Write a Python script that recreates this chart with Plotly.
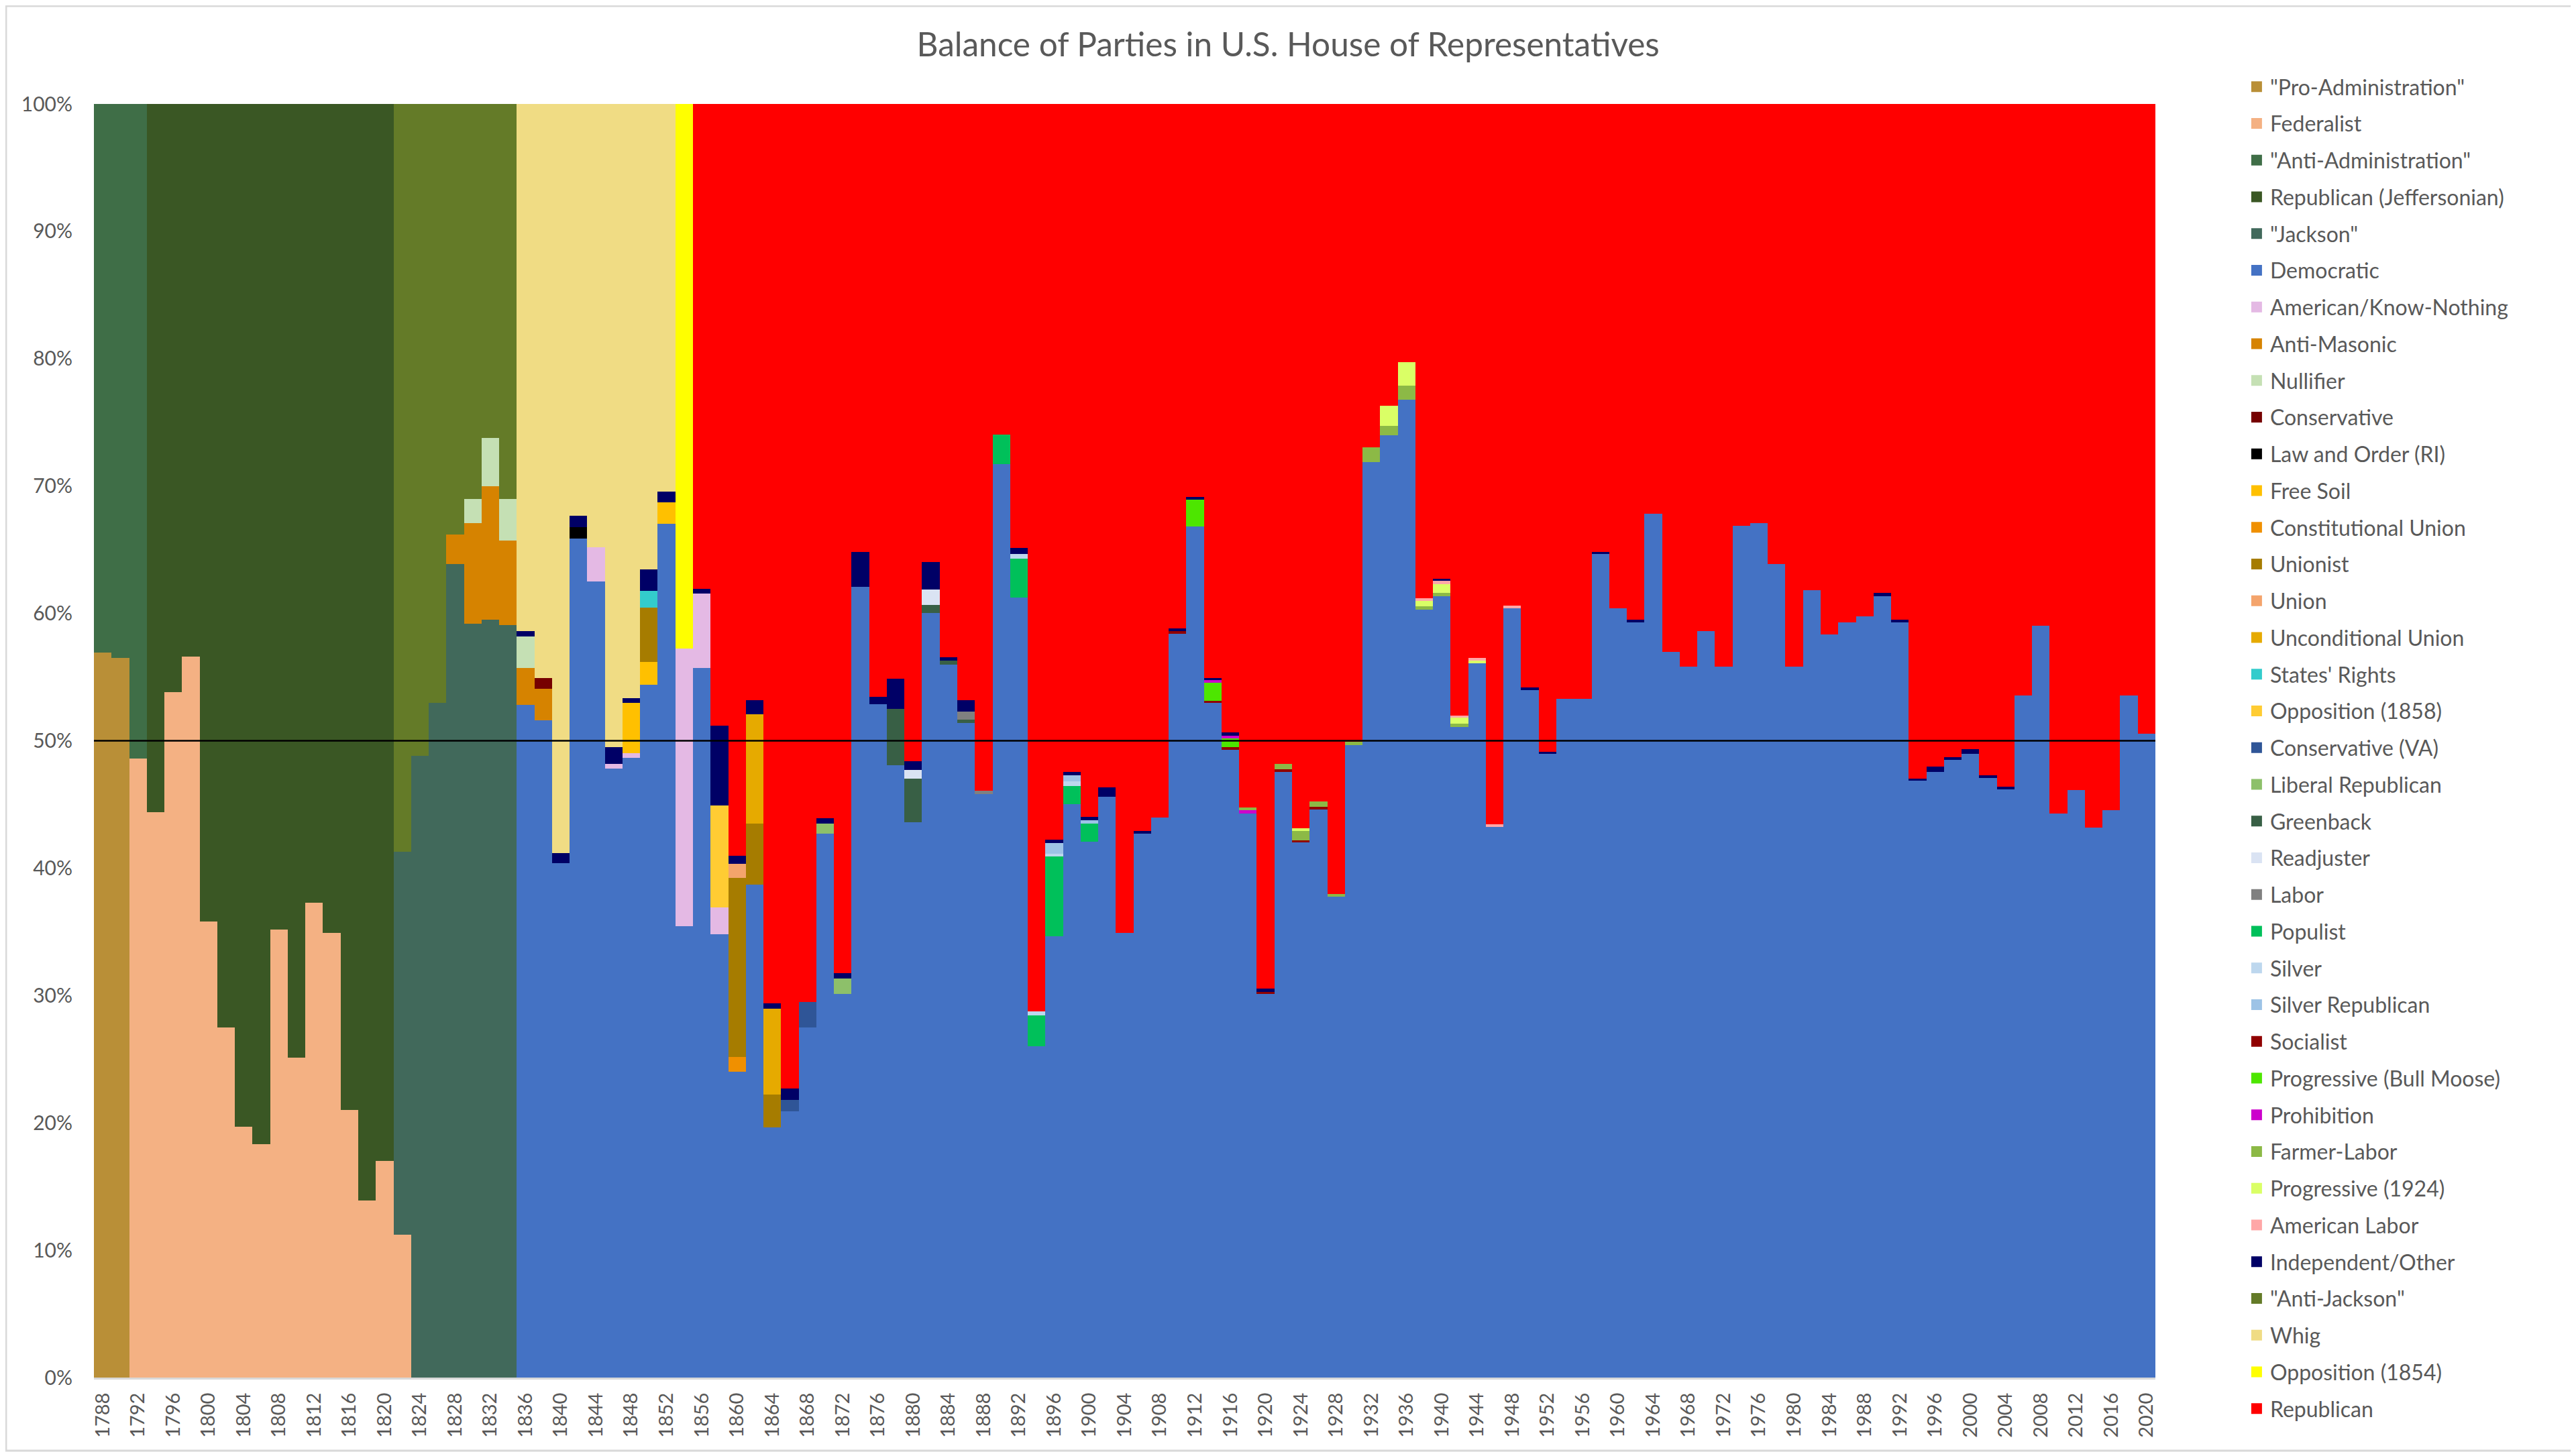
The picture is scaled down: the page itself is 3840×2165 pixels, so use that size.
import plotly.graph_objects as go

# one bar per Congress, labelled by election year
years = list(range(1788, 2021, 2))

# share of seats (%), per party, {year: share}
pro_administration = {1788: 56.9, 1790: 56.5}
federalist = {1792: 48.6, 1794: 44.4, 1796: 53.8, 1798: 56.6, 1800: 35.8, 1802: 27.5,
              1804: 19.7, 1806: 18.3, 1808: 35.2, 1810: 25.1, 1812: 37.3, 1814: 34.9,
              1816: 21.0, 1818: 13.9, 1820: 17.0, 1822: 11.2}
anti_administration = {1788: 43.1, 1790: 43.5, 1792: 51.4}
republican_jeff = {1794: 55.6, 1796: 46.2, 1798: 43.4, 1800: 64.2, 1802: 72.5, 1804: 80.3,
                   1806: 81.7, 1808: 64.8, 1810: 74.9, 1812: 62.7, 1814: 65.1, 1816: 79.0,
                   1818: 86.1, 1820: 83.0}
jackson = {1822: 30.1, 1824: 48.8, 1826: 53.0, 1828: 63.9, 1830: 59.2, 1832: 59.5, 1834: 59.1}

dem_start = 1836
democratic_vals = [
    52.8, 51.6, 40.4, 65.9, 62.5, 47.8, 48.65, 54.4, 67.05, 35.45,      # 1836-1854
    55.7, 34.8, 24.0, 38.7, 19.65, 20.9, 27.5, 42.7, 30.1, 62.1,        # 1856-1874
    52.85, 48.1, 43.6, 60.05, 56.0, 51.4, 45.8, 71.7, 61.25, 26.0,      # 1876-1894
    34.65, 45.05, 42.1, 45.6, 34.9, 42.7, 43.95, 58.4, 66.85, 52.95,    # 1896-1914
    49.3, 44.3, 30.1, 47.55, 42.0, 44.6, 37.75, 49.65, 71.9, 74.0,      # 1916-1934
    76.8, 60.3, 61.35, 51.1, 56.1, 43.25, 60.4, 54.0, 48.95, 53.3,      # 1936-1954
    53.3, 64.65, 60.4, 59.3, 67.8, 57.0, 55.8, 58.6, 55.8, 66.9,        # 1956-1974
    67.1, 63.9, 55.8, 61.8, 58.35, 59.3, 59.75, 61.35, 59.3, 46.85,     # 1976-1994
    47.55, 48.5, 48.95, 47.1, 46.2, 53.55, 59.05, 44.3, 46.15, 43.2,    # 1996-2014
    44.55, 53.55, 50.55,                                                 # 2016-2020
]
american_kn = {1844: 2.7, 1846: 0.4, 1848: 0.4, 1854: 21.8, 1856: 5.85, 1858: 2.1}
anti_masonic = {1828: 2.3, 1830: 7.9, 1832: 10.5, 1834: 6.6, 1836: 2.9, 1838: 2.5}
nullifier = {1830: 1.9, 1832: 3.8, 1834: 3.3, 1836: 2.5}
conservative = {1838: 0.8}
law_and_order = {1842: 0.85}
free_soil = {1848: 3.9, 1850: 1.8, 1852: 1.65}
constitutional_union = {1860: 1.15}
unionist = {1850: 4.25, 1860: 14.1, 1862: 4.8, 1864: 2.55}
union = {1860: 1.1}
unconditional_union = {1862: 8.6, 1864: 6.75}
states_rights = {1850: 1.3}
opposition_1858 = {1858: 8.0}
conservative_va = {1866: 0.9, 1868: 2.0}
liberal_republican = {1870: 0.8, 1872: 1.25}
greenback = {1878: 4.4, 1880: 3.45, 1882: 0.6, 1884: 0.3, 1886: 0.25}
readjuster = {1880: 0.65, 1882: 1.25}
labor = {1886: 0.65, 1888: 0.3}
populist = {1890: 2.35, 1892: 3.05, 1894: 2.45, 1896: 6.25, 1898: 1.4, 1900: 1.4}
silver = {1892: 0.35, 1894: 0.3, 1896: 0.25, 1898: 0.35}
silver_republican = {1896: 0.8, 1898: 0.5, 1900: 0.25}
socialist = {1910: 0.2, 1914: 0.2, 1916: 0.2, 1920: 0.2, 1922: 0.2, 1924: 0.2, 1926: 0.2}
progressive_bull_moose = {1912: 2.1, 1914: 1.4, 1916: 0.7}
prohibition = {1914: 0.2, 1916: 0.2, 1918: 0.25}
farmer_labor = {1918: 0.2, 1922: 0.45, 1924: 0.7, 1926: 0.45, 1928: 0.2, 1930: 0.25,
                1932: 1.15, 1934: 0.7, 1936: 1.1, 1938: 0.25, 1940: 0.25, 1942: 0.25}
progressive_1924 = {1924: 0.25, 1934: 1.6, 1936: 1.85, 1938: 0.45, 1940: 0.7, 1942: 0.45,
                    1944: 0.2}
american_labor = {1938: 0.2, 1940: 0.25, 1942: 0.2, 1944: 0.2, 1946: 0.2, 1948: 0.2}
independent = {1836: 0.4, 1840: 0.8, 1842: 0.9, 1846: 1.3, 1848: 0.4, 1850: 1.7, 1852: 0.85,
               1856: 0.4, 1858: 6.3, 1860: 0.6, 1862: 1.1, 1864: 0.45, 1866: 0.9, 1870: 0.4,
               1872: 0.4, 1874: 2.7, 1876: 0.6, 1878: 2.35, 1880: 0.7, 1882: 2.15, 1884: 0.25,
               1886: 0.9, 1892: 0.5, 1896: 0.3, 1898: 0.25, 1900: 0.25, 1902: 0.75, 1906: 0.2,
               1910: 0.2, 1912: 0.2, 1914: 0.2, 1916: 0.25, 1920: 0.25, 1940: 0.15, 1950: 0.2,
               1952: 0.2, 1958: 0.2, 1962: 0.2, 1990: 0.25, 1992: 0.2, 1994: 0.2, 1996: 0.4,
               1998: 0.2, 2000: 0.4, 2002: 0.2, 2004: 0.2}
anti_jackson = {1822: 58.7, 1824: 51.2, 1826: 47.0, 1828: 33.8, 1830: 31.0, 1832: 26.2, 1834: 31.0}
whig = {1836: 41.4, 1838: 45.1, 1840: 58.8, 1842: 32.35, 1844: 34.8, 1846: 50.5, 1848: 46.65,
        1850: 36.55, 1852: 30.45}
opposition_1854 = {1854: 42.75}

rep_start = 1856
republican_vals = [
    38.05, 48.8, 59.05, 46.8, 70.6, 77.3, 70.5, 56.1, 68.25, 35.2,      # 1856-1874
    46.55, 45.15, 51.6, 35.95, 43.45, 46.8, 53.9, 25.95, 34.85, 71.25,  # 1876-1894
    57.75, 52.45, 56.0, 53.65, 65.1, 57.1, 56.05, 41.2, 30.85, 45.05,   # 1896-1914
    49.35, 55.25, 69.45, 51.8, 56.85, 54.75, 62.05, 50.1, 26.95, 23.7,  # 1916-1934
    20.25, 38.8, 37.3, 48.0, 43.5, 56.55, 39.4, 45.8, 50.85, 46.7,      # 1936-1954
    46.7, 35.15, 39.6, 40.5, 32.2, 43.0, 44.2, 41.4, 44.2, 33.1,        # 1956-1974
    32.9, 36.1, 44.2, 38.2, 41.65, 40.7, 40.25, 38.4, 40.5, 52.95,      # 1976-1994
    52.05, 51.3, 50.65, 52.7, 53.6, 46.45, 40.95, 55.7, 53.85, 56.8,    # 1996-2014
    55.45, 46.45, 49.45,                                                 # 2016-2020
]

democratic = dict(zip(range(dem_start, 2021, 2), democratic_vals))
republican = dict(zip(range(rep_start, 2021, 2), republican_vals))

# stacking order bottom -> top, same as the legend top -> bottom
parties = [
    ('"Pro-Administration"', pro_administration, "#B98F37"),
    ("Federalist", federalist, "#F4B183"),
    ('"Anti-Administration"', anti_administration, "#3F6E47"),
    ("Republican (Jeffersonian)", republican_jeff, "#3A5724"),
    ('"Jackson"', jackson, "#41695B"),
    ("Democratic", democratic, "#4472C4"),
    ("American/Know-Nothing", american_kn, "#E4B9E4"),
    ("Anti-Masonic", anti_masonic, "#D68300"),
    ("Nullifier", nullifier, "#C5E0B4"),
    ("Conservative", conservative, "#760000"),
    ("Law and Order (RI)", law_and_order, "#000000"),
    ("Free Soil", free_soil, "#FFC000"),
    ("Constitutional Union", constitutional_union, "#F09000"),
    ("Unionist", unionist, "#A67C00"),
    ("Union", union, "#F4A46C"),
    ("Unconditional Union", unconditional_union, "#E6AA00"),
    ("States' Rights", states_rights, "#33CCCC"),
    ("Opposition (1858)", opposition_1858, "#FFCC33"),
    ("Conservative (VA)", conservative_va, "#2F5597"),
    ("Liberal Republican", liberal_republican, "#8DC06A"),
    ("Greenback", greenback, "#385F45"),
    ("Readjuster", readjuster, "#DAE3F3"),
    ("Labor", labor, "#808080"),
    ("Populist", populist, "#00C05A"),
    ("Silver", silver, "#BDD7EE"),
    ("Silver Republican", silver_republican, "#9DC3E6"),
    ("Socialist", socialist, "#900000"),
    ("Progressive (Bull Moose)", progressive_bull_moose, "#4DE600"),
    ("Prohibition", prohibition, "#CC00CC"),
    ("Farmer-Labor", farmer_labor, "#8CB946"),
    ("Progressive (1924)", progressive_1924, "#DAFF66"),
    ("American Labor", american_labor, "#FFA7A7"),
    ("Independent/Other", independent, "#000066"),
    ('"Anti-Jackson"', anti_jackson, "#647B28"),
    ("Whig", whig, "#F0DC84"),
    ("Opposition (1854)", opposition_1854, "#FFFF00"),
    ("Republican", republican, "#FF0000"),
]

grey = "#595959"
# the page body has an 8px margin, so the figure is 8px smaller than the window
W, H = 3832, 2157
ml, mr, mt, mb = 132, 627, 147, 111

fig = go.Figure()
for name, shares, color in parties:
    fig.add_trace(go.Bar(
        x=years, y=[shares.get(y, 0) for y in years], name=name,
        legendgroup=name, showlegend=False, width=2,
        marker=dict(color=color, line=dict(width=0)),
    ))
    # empty marker trace only to get a bigger square swatch in the legend
    fig.add_trace(go.Scatter(
        x=[None], y=[None], mode="markers", name=name, legendgroup=name,
        marker=dict(symbol="square", size=16, color=color),
        hoverinfo="skip",
    ))

fig.add_hline(y=50, line=dict(color="black", width=2.5))

# thin light frame round the whole chart
pw, ph = W - ml - mr, H - mt - mb
fig.add_shape(type="rect", xref="paper", yref="paper",
              x0=-(ml - 1) / pw, x1=1 + (mr - 2) / pw,
              y0=-(mb - 2) / ph, y1=1 + (mt - 1) / ph,
              line=dict(color="#D9D9D9", width=3), layer="below")

fig.update_layout(
    width=W, height=H,
    margin=dict(l=ml, r=mr, t=mt, b=mb),
    barmode="stack", barnorm="percent", bargap=0,
    paper_bgcolor="white", plot_bgcolor="white",
    font=dict(family="Lato", color=grey, size=30),
    title=dict(text="Balance of Parties in U.S. House of Representatives",
               x=0.499, xref="container", xanchor="center",
               y=0.973, yref="container", yanchor="middle",
               font=dict(size=49.5, color=grey)),
    showlegend=True,
    legend=dict(x=1.0426, xanchor="left", y=1.028, yanchor="top",
                traceorder="grouped", tracegroupgap=10.15, maxheight=2150,
                font=dict(size=32, color=grey), bgcolor="rgba(0,0,0,0)"),
    xaxis=dict(range=[1787, 2021], tickvals=list(range(1788, 2021, 4)),
               tickangle=-90, showgrid=False, zeroline=False,
               showline=True, linecolor="#D9D9D9", linewidth=3,
               ticks="", ticklabelstandoff=8, tickfont=dict(size=29, color=grey)),
    yaxis=dict(range=[0, 100], dtick=10, ticksuffix="%", showgrid=False,
               zeroline=False, showline=False, ticks="", ticklabelstandoff=31,
               tickfont=dict(size=30, color=grey)),
)

fig.write_html("out.html")
